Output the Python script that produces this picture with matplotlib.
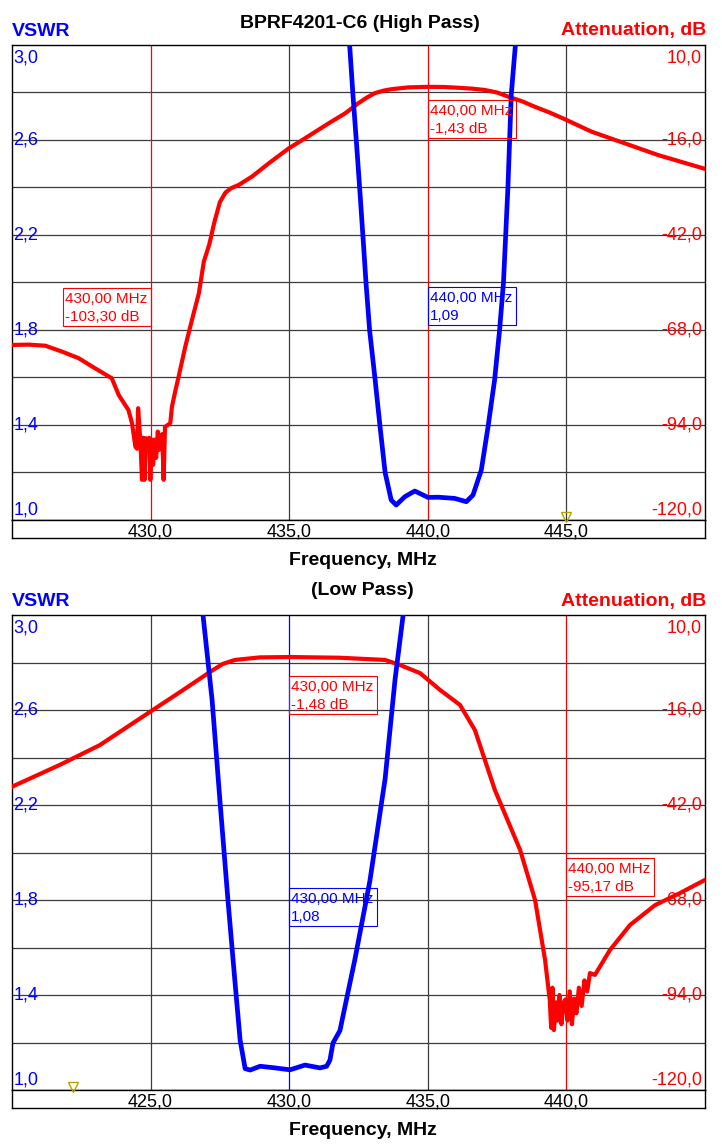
import matplotlib
matplotlib.use("Agg")
import matplotlib.pyplot as plt
from matplotlib.patches import Rectangle
from matplotlib.transforms import blended_transform_factory

# ---------------- data ----------------
# High pass panel
hp_att_freq = [425.0, 425.6, 426.2, 426.8, 427.4, 428.0, 428.6, 428.85, 429.2, 429.33,
               429.45, 429.51, 429.55, 429.60, 429.64, 429.69, 429.73, 429.78, 429.83, 429.90,
               429.95, 429.99, 430.04, 430.09, 430.14, 430.20, 430.26, 430.31, 430.36, 430.42,
               430.47, 430.52, 430.62, 430.71, 430.77, 430.90, 431.01, 431.25, 431.49, 431.74,
               431.92, 432.12, 432.30, 432.50, 432.70, 432.90, 433.18, 433.66, 434.26, 434.98,
               435.58, 436.43, 437.02, 437.48, 437.80, 438.08, 438.40, 438.68, 439.30, 440.00,
               440.60, 441.09, 441.60, 442.05, 442.50, 442.89, 443.40, 443.86, 444.40, 444.94,
               445.90, 447.10, 448.30, 450.0]
hp_att_db = [-72.1, -72.0, -72.3, -73.9, -75.7, -78.5, -81.2, -85.8, -89.9, -93.5,
             -99.9, -100.5, -89.4, -95.0, -100.0, -109.0, -97.5, -109.0, -97.6, -100.0,
             -97.5, -109.0, -98.0, -104.9, -98.0, -103.0, -95.8, -100.8, -97.0, -96.5,
             -109.0, -94.5, -94.0, -93.5, -89.0, -84.4, -80.8, -72.6, -65.3, -58.0,
             -49.3, -44.5, -38.5, -33.0, -30.4, -29.2, -28.3, -26.0, -22.4, -18.3,
             -15.5, -11.4, -8.7, -6.0, -4.4, -3.2, -2.5, -2.1, -1.6, -1.45,
             -1.5, -1.7, -1.95, -2.3, -3.0, -4.1, -5.4, -6.9, -8.5, -10.3,
             -13.7, -16.9, -20.1, -23.9]
hp_vswr_freq = [437.05, 437.18, 437.30, 437.45, 437.57, 437.68, 437.77, 437.90, 438.10, 438.28,
                438.46, 438.68, 438.86, 439.17, 439.53, 440.01, 440.37, 440.97, 441.39, 441.63,
                441.93, 442.17, 442.41, 442.59, 442.73, 442.89, 443.01, 443.16, 443.30]
hp_vswr = [3.3, 3.0, 2.79, 2.55, 2.35, 2.16, 2.0, 1.80, 1.59, 1.39,
           1.20, 1.084, 1.063, 1.098, 1.122, 1.095, 1.096, 1.091, 1.077, 1.105,
           1.21, 1.39, 1.59, 1.80, 2.0, 2.40, 2.79, 3.0, 3.3]
hp_xlim = (425, 450)
hp_xticks = [430, 435, 440, 445]
hp_att_markers = [(430, -103.30), (440, -1.43)]
hp_vswr_markers = [(440, 1.09)]
hp_triangle = 445

# Low pass panel
lp_att_freq = [420.0, 421.73, 423.17, 424.98, 426.06, 427.14, 427.60, 428.04, 428.95, 430.03, 431.83,
               433.46, 434.0, 434.72, 435.44, 436.16, 436.70, 437.42, 438.33, 438.87, 439.23,
               439.40, 439.45, 439.50, 439.55, 439.62, 439.68, 439.75, 439.82, 439.90, 439.97,
               440.04, 440.12, 440.20, 440.28, 440.36, 440.45, 440.55, 440.65, 440.75, 440.85,
               441.03, 441.57, 442.30, 443.20, 444.10, 445.0]
lp_att_db = [-37.0, -31.0, -25.6, -16.5, -11.1, -5.6, -3.4, -2.3, -1.6, -1.5, -1.7,
             -2.3, -3.7, -5.9, -10.5, -14.6, -21.5, -37.9, -54.3, -68.0, -84.4,
             -95.4, -103.0, -92.0, -103.6, -96.0, -101.0, -94.0, -102.0, -96.0, -95.2,
             -101.0, -93.0, -102.0, -95.0, -99.0, -92.0, -97.0, -90.0, -93.0, -88.0,
             -88.5, -81.7, -74.8, -69.4, -66.1, -62.5]
lp_vswr_freq = [426.70, 426.89, 427.22, 427.50, 427.79, 428.04, 428.23, 428.41, 428.59, 428.95,
                429.49, 430.03, 430.57, 431.11, 431.35, 431.47, 431.58, 431.83, 432.37, 432.91,
                433.46, 433.82, 434.11, 434.25]
lp_vswr = [3.4, 3.0, 2.64, 2.22, 1.80, 1.46, 1.21, 1.09, 1.084, 1.10,
           1.093, 1.085, 1.105, 1.093, 1.10, 1.126, 1.198, 1.25, 1.55, 1.88,
           2.31, 2.73, 3.0, 3.4]
lp_xlim = (420, 445)
lp_xticks = [425, 430, 435, 440]
lp_att_markers = [(430, -1.48), (440, -95.17)]
lp_vswr_markers = [(430, 1.08)]
lp_triangle = 422.2

vswr_labels = [3.0, 2.6, 2.2, 1.8, 1.4, 1.0]
att_labels = [10.0, -16.0, -42.0, -68.0, -94.0, -120.0]

# ---------------- style ----------------
W, H = 722, 1146
RED = "#ff0000"
BLUE = "#0000ff"
GRID = "#3c3c3c"
FONT = "Liberation Sans"
PT = 0.72  # points per pixel at dpi 100

fig = plt.figure(figsize=(W / 100, H / 100), dpi=100)
fig.patch.set_facecolor("white")


def comma(v, nd=1):
    return f"{v:.{nd}f}".replace(".", ",")


def ftext(x, y, s, **kw):
    fig.text(x / W, 1 - y / H, s, family=FONT, **kw)


def marker_box(ax, f, side, top_px, axes_top, color, lines):
    trans = blended_transform_factory(ax.transData, ax.transAxes)
    wf = 88 / 27.72
    x0 = f - wf if side == "left" else f
    ytop = 1 - (top_px - axes_top) / 475
    h = 38 / 475
    ax.add_patch(Rectangle((x0, ytop - h), wf, h, transform=trans, fill=False,
                           ec=color, lw=0.8, zorder=6, clip_on=False))
    for i, s in enumerate(lines):
        ax.annotate(s, xy=(x0, ytop), xycoords=trans,
                    xytext=(2 * PT, -(15 + 18.4 * i) * PT), textcoords="offset points",
                    ha="left", va="baseline", color=color, fontsize=11, family=FONT, zorder=7)


def panel(top, xlim, xticks, af, ad, vf, vv, vline_colors, boxes, tri):
    ax = fig.add_axes([12 / W, 1 - (top + 475) / H, 693 / W, 475 / H])
    strip = fig.add_axes([12 / W, 1 - (top + 493) / H, 693 / W, 18 / H])
    ax.set_xlim(*xlim)
    ax.set_ylim(-120, 10)
    strip.set_xlim(*xlim)
    strip.set_ylim(0, 1)
    for a in (ax, strip):
        a.set_xticks([])
        a.set_yticks([])
        for sp in a.spines.values():
            sp.set_color("black")
            sp.set_linewidth(1.0)
    # horizontal grid (every 13 dB == 0.2 VSWR)
    for g in range(-107, 10, 13):
        ax.axhline(g, color=GRID, lw=0.9, zorder=1)
    for x in xticks:
        ax.axvline(x, color=vline_colors.get(x, GRID), lw=0.9, zorder=1)
        strip.text(x, 0.11, comma(x), transform=blended_transform_factory(strip.transData, strip.transAxes),
                   ha="center", va="baseline", fontsize=13, family=FONT, color="black")
    ax.plot(af, ad, color=RED, lw=3.0, zorder=3)
    ax2 = ax.twinx()
    ax2.set_ylim(1.0, 3.0)
    ax2.set_yticks([])
    for sp in ax2.spines.values():
        sp.set_visible(False)
    ax2.plot(vf, vv, color=BLUE, lw=3.4, zorder=4)
    # tick labels inside
    n = len(vswr_labels)
    for i, (v, a) in enumerate(zip(vswr_labels, att_labels)):
        if i == 0:
            va, dy = "top", -4.5 * PT
        elif i == n - 1:
            va, dy = "bottom", 1.5 * PT
        else:
            va, dy = "center", 0
        ax2.annotate(comma(v), xy=(0, v), xycoords=("axes fraction", "data"),
                     xytext=(1.5 * PT, dy), textcoords="offset points",
                     ha="left", va=va, color=BLUE, fontsize=13, family=FONT)
        ax.annotate(comma(a), xy=(1, a), xycoords=("axes fraction", "data"),
                    xytext=(-3 * PT, dy), textcoords="offset points",
                    ha="right", va=va, color=RED, fontsize=13, family=FONT)
    for b in boxes:
        marker_box(ax2, b[0], b[1], b[2], top, b[3], b[4])
    tt = blended_transform_factory(ax2.transData, ax2.transAxes)
    ax2.plot([tri], [0.0065], marker="v", ms=7, mfc="none", mec="#b4a400",
             mew=1.0, transform=tt, clip_on=False, zorder=5)
    return ax, ax2


hp_boxes = [
    (hp_att_markers[0][0], "left", 288, RED,
     [f"{comma(hp_att_markers[0][0], 2)} MHz", f"{comma(hp_att_markers[0][1], 2)} dB"]),
    (hp_att_markers[1][0], "right", 100, RED,
     [f"{comma(hp_att_markers[1][0], 2)} MHz", f"{comma(hp_att_markers[1][1], 2)} dB"]),
    (hp_vswr_markers[0][0], "right", 287, BLUE,
     [f"{comma(hp_vswr_markers[0][0], 2)} MHz", comma(hp_vswr_markers[0][1], 2)]),
]
lp_boxes = [
    (lp_att_markers[0][0], "right", 676, RED,
     [f"{comma(lp_att_markers[0][0], 2)} MHz", f"{comma(lp_att_markers[0][1], 2)} dB"]),
    (lp_vswr_markers[0][0], "right", 888, BLUE,
     [f"{comma(lp_vswr_markers[0][0], 2)} MHz", comma(lp_vswr_markers[0][1], 2)]),
    (lp_att_markers[1][0], "right", 858, RED,
     [f"{comma(lp_att_markers[1][0], 2)} MHz", f"{comma(lp_att_markers[1][1], 2)} dB"]),
]

panel(45, hp_xlim, hp_xticks, hp_att_freq, hp_att_db, hp_vswr_freq, hp_vswr,
      {430: RED, 440: RED}, hp_boxes, hp_triangle)
panel(615, lp_xlim, lp_xticks, lp_att_freq, lp_att_db, lp_vswr_freq, lp_vswr,
      {430: BLUE, 440: RED}, lp_boxes, lp_triangle)

# headers
ftext(360, 28, "BPRF4201-C6 (High Pass)", ha="center", va="baseline", fontsize=14, weight="bold", color="black")
ftext(12, 36, "VSWR", ha="left", va="baseline", fontsize=14, weight="bold", color=BLUE)
ftext(706, 35, "Attenuation, dB", ha="right", va="baseline", fontsize=14, weight="bold", color=RED)
ftext(363, 565, "Frequency, MHz", ha="center", va="baseline", fontsize=14, weight="bold", color="black")
ftext(362, 595, "(Low Pass)", ha="center", va="baseline", fontsize=14, weight="bold", color="black")
ftext(12, 606, "VSWR", ha="left", va="baseline", fontsize=14, weight="bold", color=BLUE)
ftext(706, 606, "Attenuation, dB", ha="right", va="baseline", fontsize=14, weight="bold", color=RED)
ftext(363, 1135, "Frequency, MHz", ha="center", va="baseline", fontsize=14, weight="bold", color="black")

fig.savefig("out.png", dpi=100, facecolor="white")
